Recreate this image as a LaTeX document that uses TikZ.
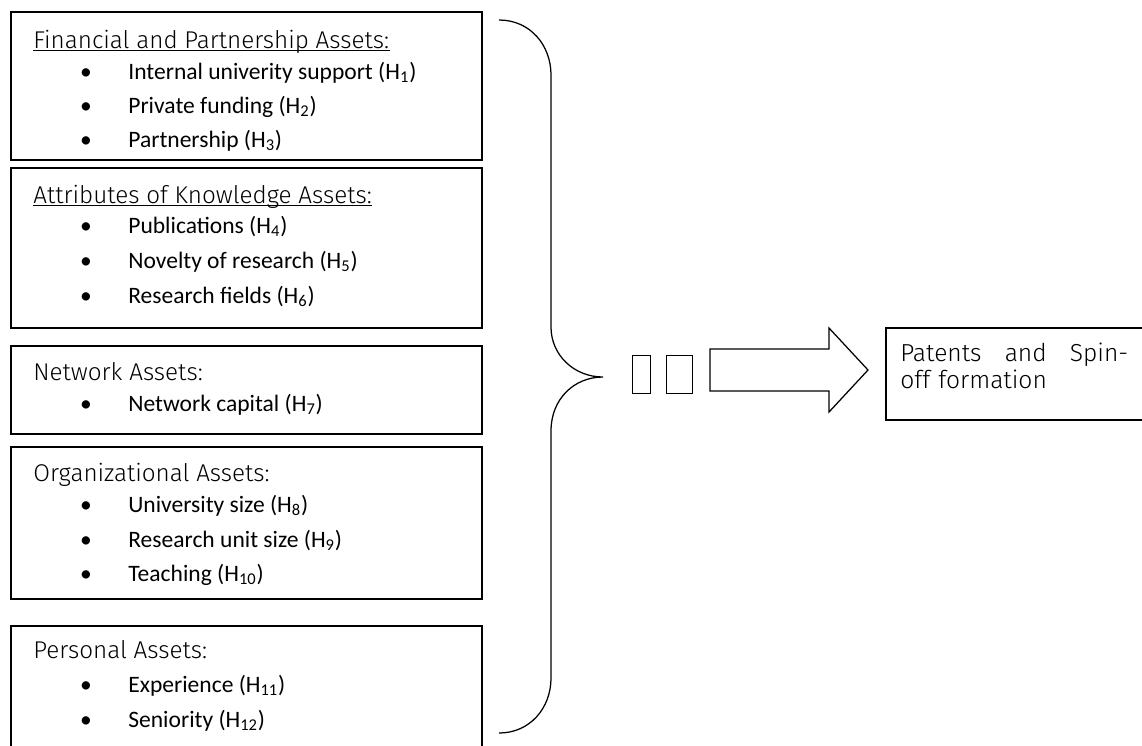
\documentclass[tikz,border=0pt]{standalone}
\usepackage{fontspec}
\setmainfont{Carlito}
\IfFontExistsTF{Fira Sans Light}
  {\newfontfamily\lightfont{Fira Sans Light}}
  {\newfontfamily\lightfont{Fira Sans}}
\usepackage{tikz}
\usetikzlibrary{calc}
\tikzstyle{tsBox} = [
    rectangle,
    draw=black,
    line width=0.3mm,
    inner sep=0pt
]
\tikzstyle{tsTitle} = [
    anchor=base west,
    inner sep=0pt,
    font=\lightfont\fontsize{13.8}{16}\selectfont
]
\tikzstyle{tsItem} = [
    anchor=base west,
    inner sep=0pt,
    font=\fontsize{13.4}{16}\selectfont
]
\tikzstyle{tsBullet} = [
    tsItem,
    anchor=base
]
\tikzstyle{tsUnderline} = [
    line width=0.2mm
]
\begin{document}
\begin{tikzpicture}[x=0.02cm, y=-0.02cm]

        \useasboundingbox (0,0) rectangle (1142,745);

        % asset boxes
        \node[tsBox, minimum width=9.42cm, minimum height=2.96cm] (finBox) at (246.5,86) { };
        \node[tsBox, minimum width=9.42cm, minimum height=3.2cm] (knowBox) at (246.5,248) { };
        \node[tsBox, minimum width=9.42cm, minimum height=1.76cm] (netBox) at (246.5,390) { };
        \node[tsBox, minimum width=9.42cm, minimum height=3.04cm] (orgBox) at (246.5,523) { };
        \node[tsBox, minimum width=9.42cm, minimum height=2.68cm] (persBox) at (246.5,693) { };

        \node[tsTitle] (finTitle) at (33,48) {Financial and Partnership Assets:};
        \draw[tsUnderline] ([yshift=-1.3pt]finTitle.base west) -- ([yshift=-1.3pt]finTitle.base east);
        \node[tsBullet] (finDotA) at (86,79) {\textbullet};
        \node[tsBullet] (finDotB) at (86,113) {\textbullet};
        \node[tsBullet] (finDotC) at (86,147) {\textbullet};
        \node[tsItem] (finA) at (128,79) {Internal univerity support (H\textsubscript{1})};
        \node[tsItem] (finB) at (128,113) {Private funding (H\textsubscript{2})};
        \node[tsItem] (finC) at (128,147) {Partnership (H\textsubscript{3})};

        \node[tsTitle] (knowTitle) at (33,203) {Attributes of Knowledge Assets:};
        \draw[tsUnderline] ([yshift=-1.3pt]knowTitle.base west) -- ([yshift=-1.3pt]knowTitle.base east);
        \node[tsBullet] (knowDotA) at (86,233) {\textbullet};
        \node[tsBullet] (knowDotB) at (86,268) {\textbullet};
        \node[tsBullet] (knowDotC) at (86,303) {\textbullet};
        \node[tsItem] (knowA) at (128,233) {Publications (H\textsubscript{4})};
        \node[tsItem] (knowB) at (128,268) {Novelty of research (H\textsubscript{5})};
        \node[tsItem] (knowC) at (128,303) {Research fields (H\textsubscript{6})};

        \node[tsTitle] (netTitle) at (33,380) {Network Assets:};
        \node[tsBullet] (netDotA) at (86,411) {\textbullet};
        \node[tsItem] (netA) at (128,411) {Network capital (H\textsubscript{7})};

        \node[tsTitle] (orgTitle) at (33,481) {Organizational Assets:};
        \node[tsBullet] (orgDotA) at (86,512) {\textbullet};
        \node[tsBullet] (orgDotB) at (86,547) {\textbullet};
        \node[tsBullet] (orgDotC) at (86,581) {\textbullet};
        \node[tsItem] (orgA) at (128,512) {University size (H\textsubscript{8})};
        \node[tsItem] (orgB) at (128,547) {Research unit size (H\textsubscript{9})};
        \node[tsItem] (orgC) at (128,581) {Teaching (H\textsubscript{10})};

        \node[tsTitle] (persTitle) at (33,658) {Personal Assets:};
        \node[tsBullet] (persDotA) at (86,692) {\textbullet};
        \node[tsBullet] (persDotB) at (86,727) {\textbullet};
        \node[tsItem] (persA) at (128,692) {Experience (H\textsubscript{11})};
        \node[tsItem] (persB) at (128,727) {Seniority (H\textsubscript{12})};

        % brace
        \draw[-, line width=0.25mm] (499,20) .. controls (530,20) and (551,45) .. (551,75)
              -- (551,327) .. controls (551,355) and (574,377) .. (603,377)
              .. controls (574,377) and (551,399) .. (551,431)
              -- (551,678) .. controls (551,708) and (530,733) .. (499,733);

        % empty glyph boxes
        \draw[-, line width=0.2mm] (632,355) rectangle (650,393);
        \draw[-, line width=0.2mm] (666,355) rectangle (692,393);

        % arrow
        \draw[-, line width=0.25mm] (710,349) -- (829,349) -- (829,328) -- (868,370)
              -- (829,412) -- (829,391) -- (710,391) -- cycle;

        % outcome box
        \node[tsBox, minimum width=5.48cm, minimum height=1.84cm] (outBox) at (1023,374) { };
        \node[anchor=north west, inner sep=0pt, text width=4.56cm, align=left,
              font=\lightfont\fontsize{14}{15.4}\selectfont] (outText) at (900,343)
              {\hbox to 4.56cm{Patents\hfill and\hfill Spin-}\\off formation};

\end{tikzpicture}
\end{document}
